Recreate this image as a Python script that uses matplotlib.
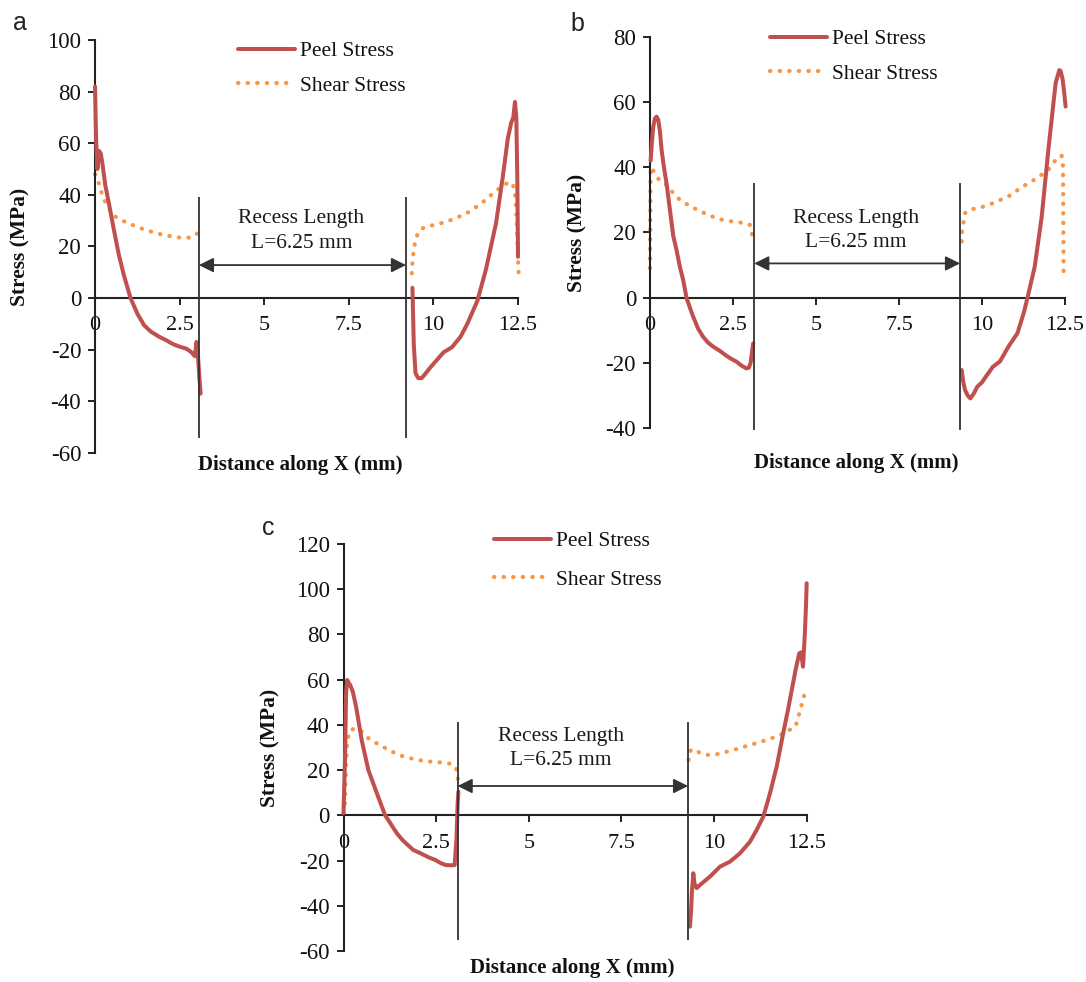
import matplotlib
matplotlib.use("Agg")
import matplotlib.pyplot as plt

plt.rcParams['font.family'] = ['Liberation Serif', 'DejaVu Serif']

PEEL = '#C0504D'
SHEAR = '#F79646'
DARK = '#222222'

# ---------------- data (MPa vs mm) ----------------
# Panel a
a_peel_l_x = [0.0, 0.03, 0.07, 0.12, 0.17, 0.22, 0.3, 0.42, 0.55, 0.7, 0.85, 1.05, 1.25, 1.45, 1.65, 1.9, 2.1, 2.3, 2.5, 2.7, 2.85, 2.95, 3.0, 3.04, 3.08, 3.12]
a_peel_l_y = [82, 62, 50, 57, 56, 52, 44, 36, 27, 17, 9, 0, -6, -10.5, -13, -15, -16.3, -17.8, -18.8, -19.6, -21, -22.5, -17, -22, -30, -37]
a_peel_r_x = [9.38, 9.42, 9.47, 9.55, 9.65, 9.75, 9.9, 10.1, 10.3, 10.55, 10.8, 11.0, 11.3, 11.55, 11.85, 12.05, 12.2, 12.3, 12.36, 12.41, 12.45, 12.48, 12.5]
a_peel_r_y = [4, -18, -29, -31, -31, -29.5, -27, -24, -21, -19, -15, -10, -1, 11, 29, 47, 62, 68, 70, 76, 70, 45, 16]
a_shear_l_x = [0.0, 0.05, 0.1, 0.15, 0.2, 0.3, 0.4, 0.55, 0.75, 1.0, 1.25, 1.55, 1.85, 2.15, 2.45, 2.65, 2.85, 2.95, 3.02, 3.1]
a_shear_l_y = [48, 47, 45, 43, 40.5, 37.3, 35, 32, 30.3, 29, 27.5, 26.2, 25, 24.2, 23.5, 23.3, 23.5, 24.5, 25, 21.8]
a_shear_r_x = [9.36, 9.38, 9.42, 9.48, 9.56, 9.7, 9.9, 10.2, 10.6, 11.0, 11.4, 11.8, 12.1, 12.28, 12.38, 12.43, 12.46, 12.49, 12.52]
a_shear_r_y = [9.6, 14, 19, 23, 25.7, 27.2, 28, 28.9, 30.6, 33, 36.5, 41, 44, 45, 43, 38, 30, 18, 9]

# Panel b
b_peel_l_x = [0.02, 0.06, 0.1, 0.15, 0.2, 0.25, 0.3, 0.35, 0.42, 0.5, 0.6, 0.7, 0.8, 0.9, 1.0, 1.1, 1.2, 1.3, 1.45, 1.6, 1.75, 1.9, 2.1, 2.3, 2.45, 2.6, 2.75, 2.9, 2.98, 3.03, 3.07, 3.11]
b_peel_l_y = [42, 48, 52.5, 55, 55.5, 54.5, 51, 45.3, 40, 35, 27, 19, 14.6, 9.5, 5.4, 0, -3, -5.8, -9.5, -12, -13.8, -15, -16.3, -17.8, -18.8, -19.6, -20.8, -21.7, -21.5, -20, -17, -14]
b_peel_r_x = [9.39, 9.44, 9.49, 9.57, 9.65, 9.75, 9.86, 10.0, 10.12, 10.33, 10.54, 10.8, 11.07, 11.27, 11.38, 11.59, 11.8, 12.0, 12.22, 12.33, 12.37, 12.43, 12.48, 12.52]
b_peel_r_y = [-22.2, -26, -28.3, -30, -30.9, -29.5, -27.3, -26, -24.2, -21.2, -19.6, -15, -10.9, -4.3, 0.3, 9.5, 24.8, 45.3, 65.8, 69.8, 69.5, 67, 62.7, 58.6]
b_shear_l_x = [0.0, 0.01, 0.02, 0.06, 0.1, 0.15, 0.2, 0.3, 0.45, 0.6, 0.9, 1.2, 1.6, 2.06, 2.51, 2.91, 3.01, 3.07, 3.11]
b_shear_l_y = [9, 25, 39.7, 40, 39, 38.2, 37, 36, 35.1, 33.2, 30, 28.1, 26.1, 24.1, 23.3, 22.8, 22.3, 19.7, 17.2]
b_shear_r_x = [9.39, 9.4, 9.44, 9.49, 9.64, 9.89, 10.34, 10.79, 11.2, 11.65, 12.0, 12.3, 12.4, 12.44, 12.45, 12.46]
b_shear_r_y = [17.2, 20.3, 22.8, 25.9, 27.1, 27.4, 29, 31, 33.9, 36.6, 39.2, 43.3, 43.5, 42, 25, 7]

# Panel c
c_peel_l_x = [0.0, 0.04, 0.07, 0.1, 0.14, 0.18, 0.25, 0.34, 0.49, 0.67, 0.9, 1.12, 1.44, 1.6, 1.88, 2.08, 2.3, 2.47, 2.62, 2.76, 2.9, 3.0, 3.05, 3.08, 3.1]
c_peel_l_y = [1, 24.5, 54, 59.8, 58.5, 57.6, 54.7, 48, 33.3, 20.1, 9.8, 0.2, -7.9, -11, -15.2, -16.7, -18.5, -19.6, -21, -21.9, -22, -21.9, -10, 5, 10.5]
c_peel_r_x = [9.35, 9.38, 9.4, 9.44, 9.47, 9.53, 9.62, 9.89, 10.16, 10.43, 10.7, 10.97, 11.15, 11.33, 11.51, 11.69, 11.85, 12.0, 12.2, 12.3, 12.35, 12.4, 12.45, 12.48, 12.5]
c_peel_r_y = [-49.1, -42, -34.4, -25.5, -29.9, -32.1, -30.7, -27, -22.6, -20.4, -16.7, -11.6, -6.4, -0.5, 9.8, 21.5, 35, 47, 64.2, 71.6, 72, 65.7, 80, 92, 102.5]
c_shear_l_x = [0.0, 0.04, 0.07, 0.1, 0.18, 0.3, 0.45, 0.72, 0.99, 1.21, 1.57, 1.98, 2.33, 2.69, 2.92, 3.04, 3.08, 3.1]
c_shear_l_y = [1, 5.4, 22.7, 33.3, 37.7, 38.3, 37.7, 33.3, 31.1, 28.9, 26.3, 24.5, 23.8, 23.3, 22.7, 20.8, 17.1, 13.5]
c_shear_r_x = [9.31, 9.34, 9.4, 9.49, 9.62, 9.85, 10.07, 10.52, 10.97, 11.42, 11.78, 11.95, 12.2, 12.35, 12.45]
c_shear_r_y = [24.5, 28.2, 29.0, 29.2, 27.5, 26.7, 27, 28.9, 31.1, 33.3, 35.5, 37, 39.2, 48, 54]

x_ticks = [0, 2.5, 5, 7.5, 10, 12.5]
x_tick_labels = ['0', '2.5', '5', '7.5', '10', '12.5']

panels = [
    dict(tag='a', rect=[0.0875, 0.5387, 0.3895, 0.4206], ylim=(-60, 100), yticks=list(range(-60, 101, 20)),
         peel=[(a_peel_l_x, a_peel_l_y), (a_peel_r_x, a_peel_r_y)],
         shear=[(a_shear_l_x, a_shear_l_y), (a_shear_r_x, a_shear_r_y)],
         recess=(3.07, 9.19), vspan=(-54, 39), arrow_y=12.8, txt=(6.1, 31, 21.3),
         leg=(0.338, 0.997, 0.66), ylab_x=-0.177, xlab=(0.486, -0.029), lab_xy=(20, 30)),
    dict(tag='b', rect=[0.5985, 0.5641, 0.3821, 0.3984], ylim=(-40, 80), yticks=list(range(-40, 81, 20)),
         peel=[(b_peel_l_x, b_peel_l_y), (b_peel_r_x, b_peel_r_y)],
         shear=[(b_shear_l_x, b_shear_l_y), (b_shear_r_x, b_shear_r_y)],
         recess=(3.14, 9.34), vspan=(-40.6, 35.1), arrow_y=10.5, txt=(6.2, 24.4, 16.8),
         leg=(0.289, 1.02, 0.68), ylab_x=-0.175, xlab=(0.496, -0.09), lab_xy=(577, 31)),
    dict(tag='c', rect=[0.3163, 0.0312, 0.4265, 0.4152], ylim=(-60, 120), yticks=list(range(-60, 121, 20)),
         peel=[(c_peel_l_x, c_peel_l_y), (c_peel_r_x, c_peel_r_y)],
         shear=[(c_shear_l_x, c_shear_l_y), (c_shear_r_x, c_shear_r_y)],
         recess=(3.08, 9.3), vspan=(-55, 41.3), arrow_y=13.0, txt=(5.87, 35, 24.2),
         leg=(0.325, 1.031, 0.86), ylab_x=-0.157, xlab=(0.493, -0.042), lab_xy=(268, 535)),
]

W, H = 1086, 982
fig = plt.figure(figsize=(W / 100, H / 100), dpi=100)
fig.patch.set_facecolor('white')

for p in panels:
    ax = fig.add_axes(p['rect'])
    ax.set_xlim(0, 12.5)
    ax.set_ylim(*p['ylim'])
    ax.set_yticks(p['yticks'])
    ax.set_yticklabels([str(v) for v in p['yticks']])
    ax.set_xticks(x_ticks)
    ax.set_xticklabels(x_tick_labels)
    for s in ['top', 'right']:
        ax.spines[s].set_visible(False)
    ax.spines['bottom'].set_position(('data', 0))
    for s in ['left', 'bottom']:
        ax.spines[s].set_color(DARK)
        ax.spines[s].set_linewidth(1.5)
    ax.tick_params(axis='both', direction='out', length=5, width=1.4, color=DARK,
                   labelsize=16.5, labelcolor='#111111')
    ax.tick_params(axis='x', pad=8, labelsize=16)
    ax.tick_params(axis='y', pad=5)

    # curves
    hp = hs = None
    for xs, ys in p['peel']:
        hp, = ax.plot(xs, ys, color=PEEL, lw=2.9, solid_capstyle='round',
                      solid_joinstyle='round', clip_on=False, zorder=3)
    for xs, ys in p['shear']:
        hs, = ax.plot(xs, ys, color=SHEAR, lw=3.0, linestyle=(0, (0.1, 2.2)),
                      dash_capstyle='round', clip_on=False, zorder=2)

    # recess markers
    x0, x1 = p['recess']
    ax.vlines([x0, x1], p['vspan'][0], p['vspan'][1], colors='#333333', lw=1.3, zorder=4, clip_on=False)
    ax.annotate('', xy=(x1, p['arrow_y']), xytext=(x0, p['arrow_y']),
                arrowprops=dict(arrowstyle='<|-|>', color='#333333', lw=1.3,
                                mutation_scale=22, shrinkA=0, shrinkB=0), zorder=4)
    tx, ty1, ty2 = p['txt']
    ax.text(tx, ty1, 'Recess Length', ha='center', va='center', fontsize=15.5, color='#1a1a1a')
    ax.text(tx, ty2, 'L=6.25 mm', ha='center', va='center', fontsize=15.5, color='#1a1a1a')

    # legend
    lx, ly, lsp = p['leg']
    ax.legend([hp, hs], ['Peel Stress', 'Shear Stress'], loc='upper left',
              bbox_to_anchor=(lx, ly), frameon=False, fontsize=15.5, handlelength=2.65,
              handletextpad=0.25, labelspacing=lsp, borderpad=0, borderaxespad=0,
              labelcolor='#111111')

    # axis labels
    ax.set_ylabel('Stress (MPa)', fontsize=15.5, fontweight='bold', va='center', color='#111111')
    ax.yaxis.set_label_coords(p['ylab_x'], 0.5)
    ax.set_xlabel('Distance along X (mm)', fontsize=15, fontweight='bold', va='center', color='#111111')
    ax.xaxis.set_label_coords(*p['xlab'])

    lxp, lyp = p['lab_xy']
    fig.text(lxp / W, 1 - lyp / H, p['tag'], ha='center', va='baseline', fontsize=18,
             family=['Liberation Sans', 'DejaVu Sans'], color='#222222')

fig.savefig('out.png', dpi=100, facecolor='white')
